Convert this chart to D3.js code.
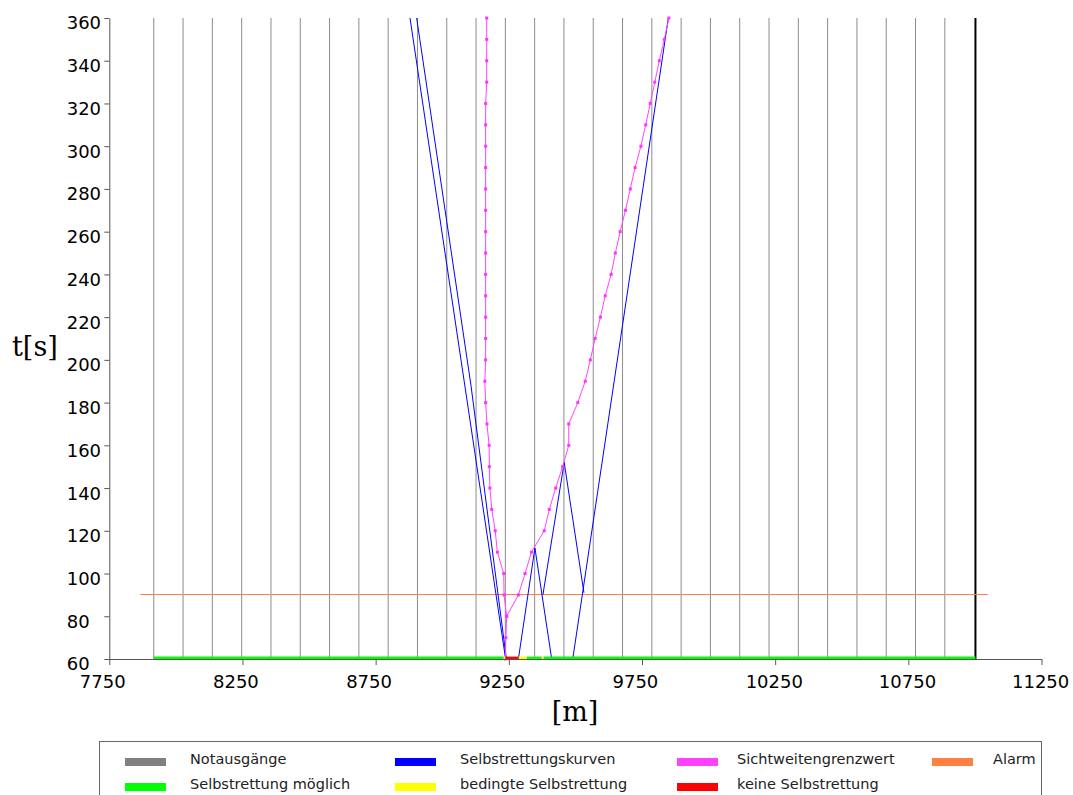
<!DOCTYPE html>
<html>
<head>
<meta charset="utf-8">
<script src="https://cdnjs.cloudflare.com/ajax/libs/d3/7.8.5/d3.min.js"></script>
<style>
  body { margin: 0; background: #fff; }
  svg { display: block; }
</style>
</head>
<body>
<script>
// ---- data ----
const yTicks = [60, 80, 100, 120, 140, 160, 180, 200, 220, 240, 260, 280, 300, 320, 340, 360];
const xTicks = [7750, 8250, 8750, 9250, 9750, 10250, 10750, 11250];

// Notausgänge (m)
const exits = [7917, 8027, 8137, 8247, 8357, 8467, 8577, 8687, 8797, 8907, 9017, 9127, 9237,
  9347, 9457, 9567, 9677, 9787, 9897, 10007, 10117, 10227, 10337, 10447, 10557, 10667,
  10777, 10887, 11002];

// Selbstrettungskurven [m, s]
const curve1 = [[8879, 360], [9238, 60]];
const curve2 = [[8904, 360], [9108, 188], [9241, 60]];
const curve3 = [[9286, 60], [9348, 112], [9411, 60]];
const curve4 = [[9378, 90], [9458, 152], [9532, 91]];
const curve5 = [[9490, 60], [9849, 360]];

// Sichtweitengrenzwert
const visLeftT = [360, 350, 340, 330, 320, 310, 300, 290, 280, 270, 260, 250, 240, 230, 220,
  210, 200, 190, 180, 170, 160, 150, 140, 130, 120, 110, 100, 90, 80, 70, 60];
const visLeftX = [9167, 9167, 9167, 9167, 9163, 9163, 9163, 9163, 9163, 9163, 9163, 9163, 9163,
  9163, 9163, 9163, 9163, 9160, 9163, 9168, 9176, 9177, 9179, 9186, 9199, 9207, 9231, 9232,
  9242, 9239, 9237];
const visRightT = [80, 90, 100, 110, 120, 130, 140, 150, 160, 170, 180, 190, 200, 210, 220, 230,
  240, 250, 260, 270, 280, 290, 300, 310, 320, 330, 340, 350, 360];
const visRightX = [9242, 9286, 9311, 9335, 9383, 9402, 9426, 9452, 9475, 9475, 9509, 9537, 9556,
  9574, 9594, 9612, 9634, 9650, 9668, 9688, 9706, 9724, 9746, 9764, 9781, 9798, 9815, 9834, 9851];

// Alarm
const alarmT = 90;
const alarmFrom = 7867, alarmTo = 11050;

// Selbstrettung status along the tunnel [from, to]
const greenSegs = [[7917, 9231], [9317, 9374], [9380, 11002]];
const yellowSegs = [[9231, 9237], [9286, 9317], [9374, 9380]];
const redSegs = [[9237, 9286]];

const legendLabels = ["Notausgänge", "Selbstrettung möglich", "Selbstrettungskurven",
  "bedingte Selbstrettung", "Sichtweitengrenzwert", "keine Selbstrettung", "Alarm"];
const legendColors = ["#808080", "#00ff00", "#0000ff", "#ffff00", "#ff40ff", "#ff0000", "#ff8040"];

// ---- chart ----
const W = 1073, H = 795;
const svg = d3.select("body").append("svg").attr("width", W).attr("height", H);

const x = d3.scaleLinear().domain([7750, 11250]).range([109.3, 1041.5]);
const y = d3.scaleLinear().domain([60, 360]).range([659, 18]);

// exits
svg.append("g").selectAll("line")
  .data(exits)
  .enter().append("line")
  .attr("x1", d => x(d)).attr("x2", d => x(d))
  .attr("y1", y(60)).attr("y2", y(360))
  .attr("stroke", (d, i) => i == exits.length - 1 ? "#000" : "#8c8c8c")
  .attr("stroke-width", (d, i) => i == exits.length - 1 ? 2 : 1);

// alarm
svg.append("line")
  .attr("x1", x(alarmFrom)).attr("x2", x(alarmTo))
  .attr("y1", y(alarmT)).attr("y2", y(alarmT))
  .attr("stroke", "#ff8040").attr("stroke-width", 1)
  .attr("shape-rendering", "crispEdges");

// self rescue curves
const line = d3.line().x(d => x(d[0])).y(d => y(d[1]));
svg.append("g").selectAll("path")
  .data([curve1, curve2, curve3, curve4, curve5])
  .enter().append("path")
  .attr("d", line)
  .attr("fill", "none")
  .attr("stroke", "#0000ff")
  .attr("stroke-width", 1);

// visibility limit
const visLeft = visLeftT.map((t, i) => [visLeftX[i], t]);
const visRight = visRightT.map((t, i) => [visRightX[i], t]);
[visLeft, visRight].forEach(function (pts) {
  svg.append("path")
    .attr("d", line(pts))
    .attr("fill", "none")
    .attr("stroke", "#ff44ff")
    .attr("stroke-width", 1);
  svg.append("g").selectAll("rect")
    .data(pts)
    .enter().append("rect")
    .attr("x", d => x(d[0]) - 1.5)
    .attr("y", d => y(d[1]) - 1.5)
    .attr("width", 3).attr("height", 3)
    .attr("fill", "#ff33ff");
});

// axes
const yAxis = d3.axisLeft(y).tickValues(yTicks).tickSize(5).tickSizeOuter(0)
  .tickFormat(d3.format("d"));
const xAxis = d3.axisBottom(x).tickValues(xTicks).tickSize(6).tickSizeOuter(0)
  .tickFormat(d3.format("d"));

const gy = svg.append("g").attr("transform", "translate(109.3,0)").call(yAxis);
gy.selectAll("text")
  .attr("x", -42.6).attr("dy", "0.61em")
  .attr("text-anchor", "start");

const gx = svg.append("g").attr("transform", "translate(0,659)").call(xAxis);
gx.selectAll("text")
  .attr("x", -30).attr("y", 16.5)
  .attr("text-anchor", "start");

svg.selectAll(".domain, .tick line").attr("stroke", "#555");
svg.selectAll(".tick text")
  .attr("fill", "#000")
  .style("font-family", "DejaVu Sans")
  .style("font-size", "18px");

// status strip on the tunnel floor
[[greenSegs, "#00ff00"], [yellowSegs, "#ffff00"], [redSegs, "#ff0000"]].forEach(function (s) {
  svg.append("g").selectAll("line")
    .data(s[0])
    .enter().append("line")
    .attr("x1", d => x(d[0])).attr("x2", d => x(d[1]))
    .attr("y1", y(60) - 1.2).attr("y2", y(60) - 1.2)
    .attr("stroke", s[1]).attr("stroke-width", 2.4);
});

// axis titles
svg.append("text")
  .attr("x", 12).attr("y", 356)
  .style("font-family", "DejaVu Serif").style("font-size", "27px")
  .text("t[s]");
svg.append("text")
  .attr("x", 575).attr("y", 721)
  .attr("text-anchor", "middle")
  .style("font-family", "DejaVu Serif").style("font-size", "27px")
  .text("[m]");

// legend
const legend = svg.append("g");
legend.append("rect")
  .attr("x", 99.5).attr("y", 741.5)
  .attr("width", 942).attr("height", 80)
  .attr("fill", "#fff").attr("stroke", "#666");

const swatchX = [125, 395, 677, 932];
const textX = [190, 460, 737, 993];

legend.selectAll("rect.sw")
  .data(legendLabels)
  .enter().append("rect")
  .attr("class", "sw")
  .attr("x", (d, i) => swatchX[Math.floor(i / 2)])
  .attr("y", (d, i) => 758 + (i % 2) * 25)
  .attr("width", 41).attr("height", 8)
  .attr("fill", (d, i) => legendColors[i]);

legend.selectAll("text")
  .data(legendLabels)
  .enter().append("text")
  .attr("x", (d, i) => textX[Math.floor(i / 2)])
  .attr("y", (d, i) => 764 + (i % 2) * 25)
  .style("font-family", "DejaVu Sans")
  .style("font-size", "14.5px")
  .attr("fill", "#222")
  .text(String);
</script>
</body>
</html>
